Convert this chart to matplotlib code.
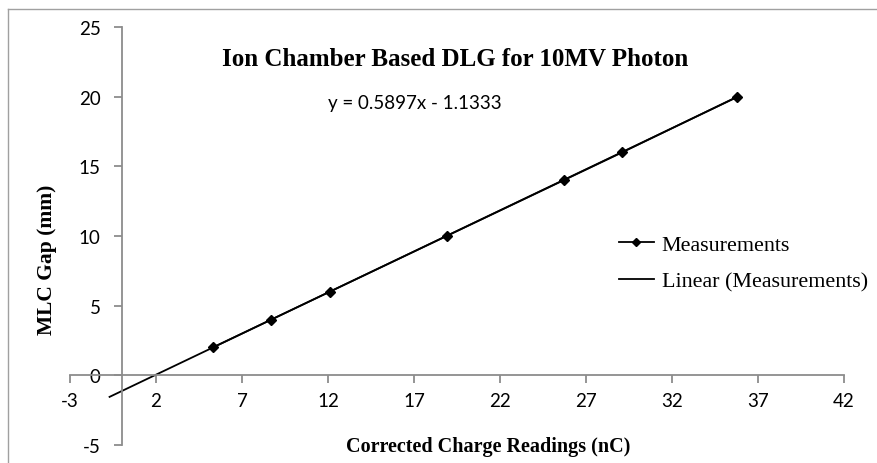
import matplotlib
matplotlib.use("Agg")
import matplotlib.pyplot as plt
import numpy as np
from matplotlib.lines import Line2D

# Data
charge_nc = [5.3, 8.7, 12.1, 18.9, 25.7, 29.1, 35.8]
gap_mm = [2, 4, 6, 10, 14, 16, 20]
slope = 0.5897
intercept = -1.1333
backward = 6.0
x_ticks = [-3, 2, 7, 12, 17, 22, 27, 32, 37, 42]
y_ticks = [-5, 0, 5, 10, 15, 20, 25]

serif = ["Liberation Serif", "DejaVu Serif"]
sans = ["Lato", "DejaVu Sans"]
fig = plt.figure(figsize=(8.77, 4.64), dpi=100)
ax = fig.add_axes([70/877, 1-446/464, (844-70)/877, (446-28)/464])

ax.set_xlim(-3, 42)
ax.set_ylim(-5, 25)

# trendline
xt = np.array([min(charge_nc) - backward, max(charge_nc)])
ax.plot(xt, slope * xt + intercept, color="black", lw=1.3, zorder=2)
ax.plot(charge_nc, gap_mm, color="black", lw=1.3, marker="D", ms=5.5, zorder=3)

gray = "#8c8c8c"
for s in ["top", "right"]:
    ax.spines[s].set_visible(False)
ax.spines["left"].set_position(("data", 0))
ax.spines["bottom"].set_position(("data", 0))
ax.spines["left"].set_color(gray)
ax.spines["bottom"].set_color(gray)
ax.spines["left"].set_linewidth(1.3)
ax.spines["bottom"].set_linewidth(1.3)
ax.set_xticks(x_ticks)
ax.set_yticks(y_ticks)
ax.set_xticklabels([str(t) for t in x_ticks])
ax.set_yticklabels([str(t) for t in y_ticks])
ax.tick_params(axis="x", direction="out", length=6, width=1.3, color=gray, pad=6,
               labelsize=13.5, labelcolor="black")
ax.tick_params(axis="y", direction="out", length=6, width=1.3, color=gray, pad=9,
               labelsize=13.5, labelcolor="black")
for lab in ax.get_xticklabels() + ax.get_yticklabels():
    lab.set_family(sans)

fig.text(455/877, 1-60/464, "Ion Chamber Based DLG for 10MV Photon", ha="center", va="center",
         fontsize=18, fontweight="bold", family=serif)
fig.text(415/877, 1-104/464, "y = 0.5897x - 1.1333", ha="center", va="center",
         fontsize=13.5, family=sans)
fig.text(488/877, 1-447/464, "Corrected Charge Readings (nC)", ha="center", va="center",
         fontsize=14.5, fontweight="bold", family=serif)
fig.text(47/877, 1-260/464, "MLC Gap (mm)", ha="center", va="center", rotation=90,
         fontsize=15.5, fontweight="bold", family=serif)

handles = [Line2D([], [], color="black", lw=1.3, marker="D", ms=4.5),
           Line2D([], [], color="black", lw=1.3)]
leg = ax.legend(handles, ["Measurements", "Linear (Measurements)"], loc="center left",
                bbox_to_anchor=(599/877, 1-264/464), bbox_transform=fig.transFigure,
                frameon=False, prop={"family": serif, "size": 15.8}, handlelength=1.6,
                handletextpad=0.35, labelspacing=0.75)

# outer chart border (top and left visible)
fig.add_artist(Line2D([8/877, 1], [1-10/464, 1-10/464], transform=fig.transFigure, color="#a0a0a0", lw=1))
fig.add_artist(Line2D([8/877, 8/877], [0, 1-10/464], transform=fig.transFigure, color="#a0a0a0", lw=1))

fig.savefig("out.png", dpi=100)
